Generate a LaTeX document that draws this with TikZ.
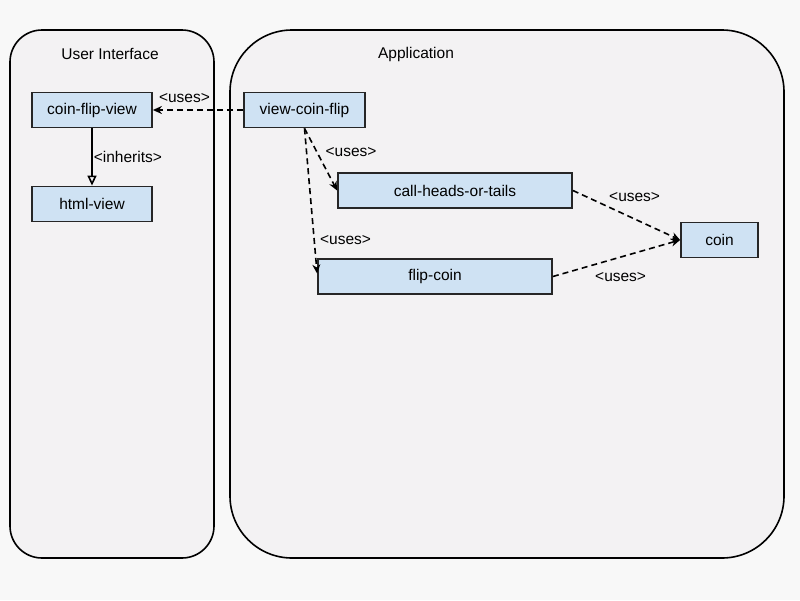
\documentclass[tikz,border=0pt]{standalone}
\usepackage{fontspec}
\setmainfont{Liberation Sans}
\usetikzlibrary{arrows.meta}
\definecolor{boxblue}{HTML}{CFE2F3}
\definecolor{panel}{HTML}{F3F2F3}
\definecolor{backgr}{HTML}{F8F8F8}
\begin{document}
\begin{tikzpicture}[auto,x=1pt,y=-1pt,font=\fontsize{15.5}{18}\selectfont,
  comp/.style={draw=black!85,line width=1.8pt,fill=boxblue,minimum height=35pt,inner sep=0pt},
  uses/.style={line width=1.6pt,dash pattern=on 6pt off 4pt,-{Stealth[length=9pt,width=8pt]}},
  lbl/.style={font=\fontsize{15.5}{18}\selectfont}]
\fill[backgr] (0,0) rectangle (800,600);
\useasboundingbox (0,0) rectangle (800,600);
\draw[line width=1.6pt,fill=panel,rounded corners=32pt] (10,30) rectangle (214,558);
\draw[line width=1.6pt,fill=panel,rounded corners=62pt] (230,30) rectangle (784,558);
\node (uit) at (110,54) {User Interface}; \node (appt) at (416,54) {Application};
\node[comp,minimum width=120pt] (cfv) at (92,110) {coin-flip-view};
\node[comp,minimum width=120pt] (html) at (92,204) {html-view};
\node[comp,minimum width=121pt] (vcf) at (304.5,110) {view-coin-flip};
\node[comp,minimum width=234pt] (chot) at (455,190.5) {call-heads-or-tails};
\node[comp,minimum width=234pt] (flip) at (435,276.5) {flip-coin};
\node[comp,minimum width=77pt] (coin) at (719.5,240) {coin};
\draw[uses] (vcf) to node[lbl,swap,pos=0.65,yshift=3pt] {<uses>} (cfv);
\draw[line width=1.6pt,-{Triangle[open,length=10pt,width=9pt]}] (cfv) to node[lbl,inner sep=1pt] {<inherits>} (html);
\draw[uses] (vcf.south) to node[lbl,pos=0.52] {<uses>} (chot.west);
\draw[uses] (vcf.south) to node[lbl,pos=0.83,xshift=1pt] {<uses>} ([yshift=3pt]flip.west);
\draw[uses] (chot.east) to node[lbl,pos=0.3] {<uses>} (coin.west);
\draw[uses] (flip.east) to node[lbl,swap,pos=0.3,yshift=-3pt] {<uses>} (coin.west);
\end{tikzpicture}
\end{document}
